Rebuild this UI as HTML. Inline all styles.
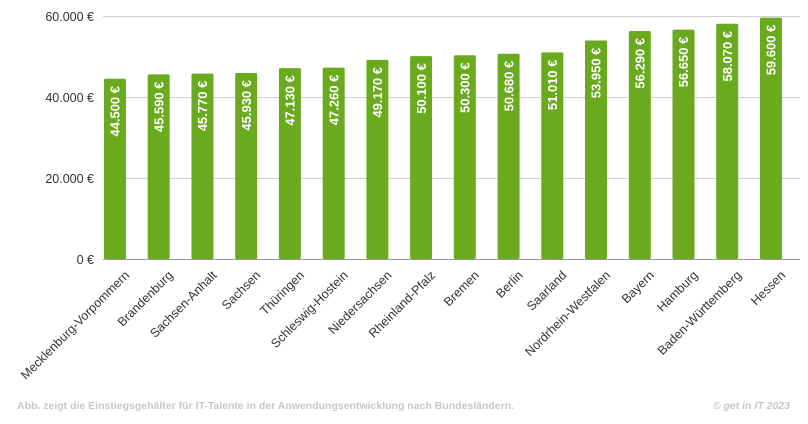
<!DOCTYPE html>
<html><head><meta charset="utf-8"><style>
body{margin:0;background:#fff;width:808px;height:424px;overflow:hidden}
svg{display:block;font-family:"Liberation Sans",sans-serif}
</style></head><body>
<svg width="808" height="424" viewBox="0 0 808 424">
<g stroke="#d0d0d0" stroke-width="1">
<line x1="103" x2="800" y1="16.5" y2="16.5"/>
<line x1="103" x2="800" y1="97.5" y2="97.5"/>
<line x1="103" x2="800" y1="178.5" y2="178.5"/>
</g>
<g font-size="12.5" fill="#333" text-anchor="end">
<text x="94" y="21">60.000 €</text>
<text x="94" y="102">40.000 €</text>
<text x="94" y="183">20.000 €</text>
<text x="94" y="264">0 €</text>
</g>
<g fill="#6aaa1e">
<rect x="104" y="78.8" width="22" height="180.2" rx="1.5"/>
<rect x="147.7" y="74.4" width="22" height="184.6" rx="1.5"/>
<rect x="191.5" y="73.6" width="22" height="185.4" rx="1.5"/>
<rect x="235.2" y="73" width="22" height="186" rx="1.5"/>
<rect x="278.9" y="68.1" width="22" height="190.9" rx="1.5"/>
<rect x="322.7" y="67.6" width="22" height="191.4" rx="1.5"/>
<rect x="366.4" y="59.9" width="22" height="199.1" rx="1.5"/>
<rect x="410.1" y="56.1" width="22" height="202.9" rx="1.5"/>
<rect x="453.8" y="55.3" width="22" height="203.7" rx="1.5"/>
<rect x="497.6" y="53.7" width="22" height="205.3" rx="1.5"/>
<rect x="541.3" y="52.4" width="22" height="206.6" rx="1.5"/>
<rect x="585" y="40.5" width="22" height="218.5" rx="1.5"/>
<rect x="628.8" y="31" width="22" height="228" rx="1.5"/>
<rect x="672.5" y="29.6" width="22" height="229.4" rx="1.5"/>
<rect x="716.2" y="23.8" width="22" height="235.2" rx="1.5"/>
<rect x="760" y="17.6" width="22" height="241.4" rx="1.5"/>
</g>
<g font-size="13" font-weight="bold" fill="#fff" text-anchor="end">
<text transform="translate(119.7,86) rotate(-90)">44.500 €</text>
<text transform="translate(163.4,81.5) rotate(-90)">45.590 €</text>
<text transform="translate(207.2,80.7) rotate(-90)">45.770 €</text>
<text transform="translate(250.9,80) rotate(-90)">45.930 €</text>
<text transform="translate(294.6,75.2) rotate(-90)">47.130 €</text>
<text transform="translate(338.4,74.7) rotate(-90)">47.260 €</text>
<text transform="translate(382.1,67) rotate(-90)">49.170 €</text>
<text transform="translate(425.8,63.2) rotate(-90)">50.100 €</text>
<text transform="translate(469.5,62.4) rotate(-90)">50.300 €</text>
<text transform="translate(513.3,60.8) rotate(-90)">50.680 €</text>
<text transform="translate(557,59.5) rotate(-90)">51.010 €</text>
<text transform="translate(600.7,47.6) rotate(-90)">53.950 €</text>
<text transform="translate(644.5,38) rotate(-90)">56.290 €</text>
<text transform="translate(688.2,36.7) rotate(-90)">56.650 €</text>
<text transform="translate(731.9,30.9) rotate(-90)">58.070 €</text>
<text transform="translate(775.7,24.7) rotate(-90)">59.600 €</text>
</g>
<g font-size="12.5" fill="#333" text-anchor="end">
<text transform="translate(130,276) rotate(-45)">Mecklenburg-Vorpommern</text>
<text transform="translate(173.7,276) rotate(-45)">Brandenburg</text>
<text transform="translate(217.5,276) rotate(-45)">Sachsen-Anhalt</text>
<text transform="translate(261.2,276) rotate(-45)">Sachsen</text>
<text transform="translate(304.9,276) rotate(-45)">Thüringen</text>
<text transform="translate(348.7,276) rotate(-45)">Schleswig-Hostein</text>
<text transform="translate(392.4,276) rotate(-45)">Niedersachsen</text>
<text transform="translate(436.1,276) rotate(-45)">Rheinland-Pfalz</text>
<text transform="translate(479.8,276) rotate(-45)">Bremen</text>
<text transform="translate(523.6,276) rotate(-45)">Berlin</text>
<text transform="translate(567.3,276) rotate(-45)">Saarland</text>
<text transform="translate(611,276) rotate(-45)">Nordrhein-Westfalen</text>
<text transform="translate(654.8,276) rotate(-45)">Bayern</text>
<text transform="translate(698.5,276) rotate(-45)">Hamburg</text>
<text transform="translate(742.2,276) rotate(-45)">Baden-Württemberg</text>
<text transform="translate(786,276) rotate(-45)">Hessen</text>
</g>
<line x1="103" x2="800" y1="259.5" y2="259.5" stroke="#999" stroke-width="1"/>
<text x="17" y="409" font-size="10.5" font-weight="bold" fill="#c3c8cc">Abb. zeigt die Einstiegsgehälter für IT-Talente in der Anwendungsentwicklung nach Bundesländern.</text>
<text x="790" y="409" font-size="10.5" font-weight="bold" font-style="italic" fill="#c3c8cc" text-anchor="end">© get in IT 2023</text>
</svg>
</body></html>
